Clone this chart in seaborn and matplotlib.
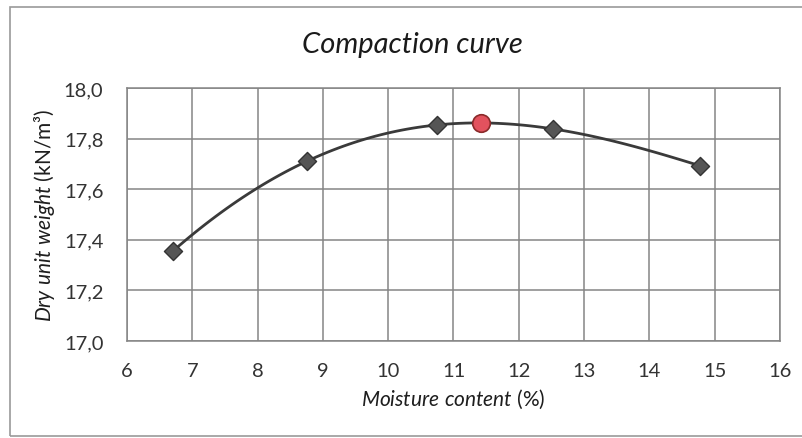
import matplotlib
matplotlib.use("Agg")
import matplotlib.pyplot as plt
import matplotlib.patches as mpatches
from matplotlib.ticker import FuncFormatter, MultipleLocator
import seaborn as sns
import pandas as pd

# Data
moisture = [6.71, 8.75, 10.75, 12.53, 14.77]
dry_unit_weight = [17.357, 17.71, 17.854, 17.838, 17.693]
opt_moisture = [11.42]
max_dry_unit_weight = [17.86]

title = "Compaction curve"
xlabel = r"$\mathit{Moisture\ content}$ (%)"
ylabel = r"$\mathit{Dry\ unit\ weight}$ (kN/m³)"

sns.set_style("white")
plt.rcParams['font.family'] = ['Lato', 'DejaVu Sans']
plt.rcParams['mathtext.fontset'] = 'custom'
plt.rcParams['mathtext.it'] = 'Lato:italic'
plt.rcParams['mathtext.rm'] = 'Lato'

df = pd.DataFrame({"w": moisture, "g": dry_unit_weight})
opt = pd.DataFrame({"w": opt_moisture, "g": max_dry_unit_weight})

fig = plt.figure(figsize=(8.02, 4.39), dpi=100)
ax = fig.add_axes([127/802, 1-342/439, (780-127)/802, (342-89)/439])

# outer chart frame
fig.patches.append(mpatches.Rectangle((10/802, 2/439), 1.2, 429/439, transform=fig.transFigure,
                                      fill=False, edgecolor="#9a9a9a", linewidth=1.2))

sns.regplot(data=df, x="w", y="g", order=4, ci=None, scatter=False, truncate=True,
            line_kws=dict(color="#3a3a3a", linewidth=2, zorder=3), ax=ax)
sns.scatterplot(data=df, x="w", y="g", marker="D", s=85, color="#555555",
                edgecolor="#333333", linewidth=1, zorder=4, ax=ax)
sns.scatterplot(data=opt, x="w", y="g", marker="o", s=160, color="#e2525e",
                edgecolor="#8a2a2a", linewidth=1.2, zorder=5, ax=ax)

ax.set_xlim(6, 16)
ax.set_ylim(17.0, 18.0)
ax.xaxis.set_major_locator(MultipleLocator(1))
ax.yaxis.set_major_locator(MultipleLocator(0.2))
ax.yaxis.set_major_formatter(FuncFormatter(lambda v, p: f"{v:.1f}".replace(".", ",")))
ax.xaxis.set_major_formatter(FuncFormatter(lambda v, p: f"{v:.0f}"))
ax.grid(True, color="#858585", linewidth=1.1)
for s in ax.spines.values():
    s.set_color("#858585")
    s.set_linewidth(1.1)
ax.tick_params(axis="both", length=0, labelsize=14.5, colors="#333333")
ax.tick_params(axis="x", pad=15)
ax.tick_params(axis="y", pad=17)

ax.set_xlabel(xlabel, fontsize=15, color="#1e1e1e", labelpad=6)
ax.set_ylabel(ylabel, fontsize=15, color="#1e1e1e", labelpad=5)
fig.text(412/802, 1-45/439, title, fontsize=21, style="italic", color="#1a1a1a",
         ha="center", va="center")

fig.savefig("out.png", dpi=100)
